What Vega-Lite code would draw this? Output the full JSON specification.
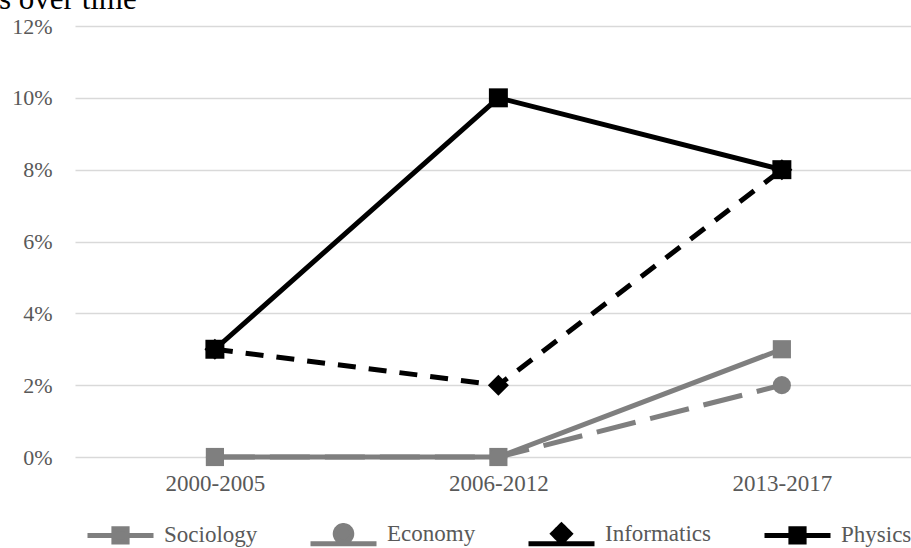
{
  "$schema": "https://vega.github.io/schema/vega-lite/v6.json",
  "autosize": {"type": "none"},
  "width": 836,
  "height": 431,
  "padding": {"left": 75, "top": 26, "right": 0, "bottom": 91},
  "background": "white",
  "config": {"view": {"stroke": null}},
  "title": {"text": "s over time", "anchor": "start", "frame": "group", "font": "Liberation Serif", "fontSize": 31, "fontWeight": "normal", "color": "#000000", "baseline": "alphabetic", "offset": 8, "dx": -76, "dy": 33},
  "data": {"values": [
    {"series": "Sociology", "period": "2000-2005", "share": 0},
    {"series": "Sociology", "period": "2006-2012", "share": 0},
    {"series": "Sociology", "period": "2013-2017", "share": 0.03},
    {"series": "Economy", "period": "2000-2005", "share": 0},
    {"series": "Economy", "period": "2006-2012", "share": 0},
    {"series": "Economy", "period": "2013-2017", "share": 0.02},
    {"series": "Informatics", "period": "2000-2005", "share": 0.03},
    {"series": "Informatics", "period": "2006-2012", "share": 0.02},
    {"series": "Informatics", "period": "2013-2017", "share": 0.08},
    {"series": "Physics", "period": "2000-2005", "share": 0.03},
    {"series": "Physics", "period": "2006-2012", "share": 0.10},
    {"series": "Physics", "period": "2013-2017", "share": 0.08}
  ]},
  "encoding": {
    "x": {"field": "period", "type": "nominal", "sort": ["2000-2005", "2006-2012", "2013-2017"],
      "scale": {"type": "point", "padding": 0.4745, "align": 0.52},
      "axis": {"title": null, "domain": false, "ticks": false, "tickSize": 0, "grid": false, "labelAngle": 0, "labelFont": "Liberation Serif", "labelFontSize": 23, "labelColor": "#595959", "labelPadding": 15}},
    "y": {"field": "share", "type": "quantitative",
      "scale": {"domain": [0, 0.12], "nice": false, "zero": true},
      "axis": {"title": null, "domain": false, "ticks": false, "tickSize": 0, "values": [0, 0.02, 0.04, 0.06, 0.08, 0.10, 0.12], "format": ".0%", "grid": true, "gridColor": "#d9d9d9", "gridWidth": 1.5, "labelFont": "Liberation Serif", "labelFontSize": 22, "labelColor": "#595959", "labelPadding": 23}},
    "color": {"field": "series", "type": "nominal",
      "scale": {"domain": ["Sociology", "Economy", "Informatics", "Physics"], "range": ["#7f7f7f", "#7f7f7f", "#000000", "#000000"]},
      "legend": {"orient": "none", "legendX": 10, "legendY": 472, "direction": "horizontal", "columns": 4, "title": null, "padding": 0,
        "labelFont": "Liberation Serif", "labelFontSize": 23, "labelColor": "#595959", "labelOffset": 8, "columnPadding": 42,
        "symbolSize": 4356, "symbolStrokeWidth": 5,
        "encode": {"symbols": {"update": {
          "shape": {"signal": "datum.value === 'Economy' ? 'M-1,0.3H1M0.25,0A0.25,0.25,0,1,1,-0.25,0A0.25,0.25,0,1,1,0.25,0Z' : datum.value === 'Informatics' ? 'M-1,0.3H1M0,-0.26L0.26,0L0,0.26L-0.26,0Z' : 'M-1,0H1M-0.2,-0.2H0.2V0.2H-0.2Z'"},
          "size": {"value": 4356},
          "fill": {"signal": "scale('color', datum.value)"},
          "stroke": {"signal": "scale('color', datum.value)"},
          "strokeWidth": {"value": 5},
          "strokeDash": {"value": [1, 0]},
          "opacity": {"value": 1},
          "fillOpacity": {"value": 1},
          "strokeOpacity": {"value": 1}
        }}}}
    }
  },
  "layer": [
    {"transform": [{"filter": "datum.series === 'Sociology'"}],
     "mark": {"type": "line", "strokeWidth": 5, "strokeCap": "butt", "strokeJoin": "round"}},
    {"transform": [{"filter": "datum.series === 'Sociology'"}],
     "mark": {"type": "point", "shape": "square", "filled": true, "size": 330, "opacity": 1}},
    {"transform": [{"filter": "datum.series === 'Economy'"}],
     "mark": {"type": "line", "strokeWidth": 5, "strokeCap": "butt", "strokeJoin": "round", "strokeDash": [40, 15]}},
    {"transform": [{"filter": "datum.series === 'Economy'"}],
     "mark": {"type": "point", "shape": "circle", "filled": true, "size": 330, "opacity": 1}},
    {"transform": [{"filter": "datum.series === 'Informatics'"}],
     "mark": {"type": "line", "strokeWidth": 5, "strokeCap": "butt", "strokeJoin": "round", "strokeDash": [18, 13]}},
    {"transform": [{"filter": "datum.series === 'Informatics'"}],
     "mark": {"type": "point", "shape": "diamond", "filled": true, "size": 440, "opacity": 1, "strokeJoin": "round"}},
    {"transform": [{"filter": "datum.series === 'Physics'"}],
     "mark": {"type": "line", "strokeWidth": 5, "strokeCap": "butt", "strokeJoin": "round"}},
    {"transform": [{"filter": "datum.series === 'Physics'"}],
     "mark": {"type": "point", "shape": "square", "filled": true, "size": 360, "opacity": 1}}
  ]
}
